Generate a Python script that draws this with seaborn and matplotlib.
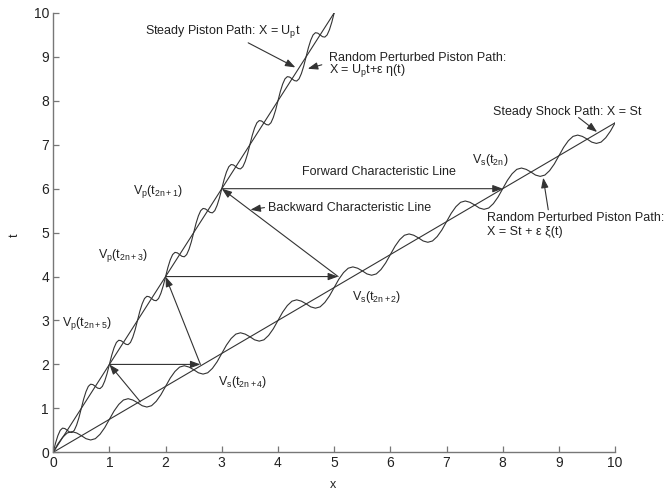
import numpy as np
import pandas as pd
import matplotlib
matplotlib.use("Agg")
import matplotlib.pyplot as plt
import seaborn as sns

# ---------------- data ----------------
steady_piston_x = [0, 5]
steady_piston_t = [0, 10]
steady_shock_x = [0, 10]
steady_shock_t = [0, 7.5]

piston_wave_x = np.linspace(0, 5, 121)
piston_wave_t = [
    0.00, 0.21, 0.38, 0.50, 0.55, 0.54, 0.50, 0.46, 0.45, 0.50, 0.62, 0.79,
    1.00, 1.21, 1.38, 1.50, 1.55, 1.54, 1.50, 1.46, 1.45, 1.50, 1.62, 1.79,
    2.00, 2.21, 2.38, 2.50, 2.55, 2.54, 2.50, 2.46, 2.45, 2.50, 2.62, 2.79,
    3.00, 3.21, 3.38, 3.50, 3.55, 3.54, 3.50, 3.46, 3.45, 3.50, 3.62, 3.79,
    4.00, 4.21, 4.38, 4.50, 4.55, 4.54, 4.50, 4.46, 4.45, 4.50, 4.62, 4.79,
    5.00, 5.21, 5.38, 5.50, 5.55, 5.54, 5.50, 5.46, 5.45, 5.50, 5.62, 5.79,
    6.00, 6.21, 6.38, 6.50, 6.55, 6.54, 6.50, 6.46, 6.45, 6.50, 6.62, 6.79,
    7.00, 7.21, 7.38, 7.50, 7.55, 7.54, 7.50, 7.46, 7.45, 7.50, 7.62, 7.79,
    8.00, 8.21, 8.38, 8.50, 8.55, 8.54, 8.50, 8.46, 8.45, 8.50, 8.62, 8.79,
    9.00, 9.21, 9.38, 9.50, 9.55, 9.54, 9.50, 9.46, 9.45, 9.50, 9.62, 9.79,
    10.00,
]

shock_wave_x = np.linspace(0, 10, 121)
shock_wave_t = [
    0.00, 0.19, 0.34, 0.44, 0.47, 0.44, 0.38, 0.31, 0.28, 0.31, 0.41, 0.56,
    0.75, 0.94, 1.09, 1.19, 1.22, 1.19, 1.13, 1.06, 1.03, 1.06, 1.16, 1.31,
    1.50, 1.69, 1.84, 1.94, 1.97, 1.94, 1.88, 1.81, 1.78, 1.81, 1.91, 2.06,
    2.25, 2.44, 2.59, 2.69, 2.72, 2.69, 2.63, 2.56, 2.53, 2.56, 2.66, 2.81,
    3.00, 3.19, 3.34, 3.44, 3.47, 3.44, 3.38, 3.31, 3.28, 3.31, 3.41, 3.56,
    3.75, 3.94, 4.09, 4.19, 4.22, 4.19, 4.13, 4.06, 4.03, 4.06, 4.16, 4.31,
    4.50, 4.69, 4.84, 4.94, 4.97, 4.94, 4.88, 4.81, 4.78, 4.81, 4.91, 5.06,
    5.25, 5.44, 5.59, 5.69, 5.72, 5.69, 5.63, 5.56, 5.53, 5.56, 5.66, 5.81,
    6.00, 6.19, 6.34, 6.44, 6.47, 6.44, 6.38, 6.31, 6.28, 6.31, 6.41, 6.56,
    6.75, 6.94, 7.09, 7.19, 7.22, 7.19, 7.13, 7.06, 7.03, 7.06, 7.16, 7.31,
    7.50,
]

# characteristic lines: (tail x, tail t, head x, head t)
char_tail_x = [3.00, 5.07, 2.00, 2.62, 1.00, 1.55]
char_tail_t = [6.00, 4.00, 4.00, 2.00, 2.00, 1.15]
char_head_x = [8.00, 3.00, 5.07, 2.00, 2.62, 1.00]
char_head_t = [6.00, 6.00, 4.00, 4.00, 2.00, 2.00]

point_labels = [
    r"V$_\mathrm{p}$(t$_\mathrm{2n+ 1}$)",
    r"V$_\mathrm{p}$(t$_\mathrm{2n+ 3}$)",
    r"V$_\mathrm{p}$(t$_\mathrm{2n+ 5}$)",
    r"V$_\mathrm{s}$(t$_\mathrm{2n}$)",
    r"V$_\mathrm{s}$(t$_\mathrm{2n+ 2}$)",
    r"V$_\mathrm{s}$(t$_\mathrm{2n+ 4}$)",
]
point_label_x = [1.42, 0.80, 0.15, 7.45, 5.32, 2.93]
point_label_t = [5.93, 4.49, 2.94, 6.65, 3.53, 1.60]

x_ticks = [0, 1, 2, 3, 4, 5, 6, 7, 8, 9, 10]
t_ticks = [0, 1, 2, 3, 4, 5, 6, 7, 8, 9, 10]

# ---------------- style ----------------
sns.set_theme(style="ticks")
plt.rcParams["font.family"] = ["Liberation Sans", "DejaVu Sans"]
plt.rcParams["mathtext.fontset"] = "custom"
plt.rcParams["mathtext.rm"] = "Liberation Sans"
plt.rcParams["mathtext.it"] = "Liberation Sans:italic"
plt.rcParams["mathtext.bf"] = "Liberation Sans:bold"

LC = "#333333"
LW = 0.8

fig = plt.figure(figsize=(6.65, 4.92), dpi=100)
ax = fig.add_axes([0.080, 0.0807, 0.845, 0.893])

sns.lineplot(x=steady_piston_x, y=steady_piston_t, ax=ax, color=LC, lw=LW, sort=False, estimator=None)
sns.lineplot(x=steady_shock_x, y=steady_shock_t, ax=ax, color=LC, lw=LW, sort=False, estimator=None)
sns.lineplot(x=piston_wave_x, y=piston_wave_t, ax=ax, color=LC, lw=LW, sort=False, estimator=None)
sns.lineplot(x=shock_wave_x, y=shock_wave_t, ax=ax, color=LC, lw=LW, sort=False, estimator=None)

aprops = dict(arrowstyle="-|>,head_length=0.6,head_width=0.22", color=LC, lw=LW,
              mutation_scale=10, shrinkA=0, shrinkB=0)
for tx, tt, hx, ht in zip(char_tail_x, char_tail_t, char_head_x, char_head_t):
    ax.annotate("", xy=(hx, ht), xytext=(tx, tt), arrowprops=aprops)

FS = 9
TC = "#222222"
for s, px, pt in zip(point_labels, point_label_x, point_label_t):
    ax.text(px, pt, s, fontsize=FS, ha="left", va="center", color=TC)

# annotations
ax.text(1.635, 9.57, r"Steady Piston Path: X = U$_\mathrm{p}$t", fontsize=FS, ha="left", va="center", color=TC)
ax.annotate("", xy=(4.31, 8.76), xytext=(3.47, 9.32), arrowprops=aprops)

ax.text(4.91, 8.98, "Random Perturbed Piston Path:", fontsize=FS, ha="left", va="center", color=TC)
ax.text(4.91, 8.68, r"X = U$_\mathrm{p}$t+ε η(t)", fontsize=FS, ha="left", va="center", color=TC)
ax.annotate("", xy=(4.53, 8.73), xytext=(4.78, 8.82), arrowprops=aprops)

ax.text(7.83, 7.75, "Steady Shock Path: X = St", fontsize=FS, ha="left", va="center", color=TC)
ax.annotate("", xy=(9.68, 7.29), xytext=(9.35, 7.62), arrowprops=aprops)

ax.text(7.72, 5.33, "Random Perturbed Piston Path:", fontsize=FS, ha="left", va="center", color=TC)
ax.text(7.72, 5.01, "X = St + ε ξ(t)", fontsize=FS, ha="left", va="center", color=TC)
ax.annotate("", xy=(8.72, 6.25), xytext=(8.81, 5.52), arrowprops=aprops)

ax.text(4.43, 6.38, "Forward Characteristic Line", fontsize=FS, ha="left", va="center", color=TC)
ax.text(3.82, 5.56, "Backward Characteristic Line", fontsize=FS, ha="left", va="center", color=TC)
ax.annotate("", xy=(3.51, 5.52), xytext=(3.76, 5.57), arrowprops=aprops)

# axes styling
ax.set_xlim(0, 10)
ax.set_ylim(0, 10)
ax.set_xticks(x_ticks)
ax.set_yticks(t_ticks)
sns.despine(ax=ax)
for sp in ("left", "bottom"):
    ax.spines[sp].set_color("#777777")
    ax.spines[sp].set_linewidth(1.0)
ax.tick_params(direction="in", length=4, width=0.9, color="#777777", labelsize=10,
               labelcolor=TC, pad=3)
ax.set_xlabel("x", fontsize=9, color=TC)
ax.xaxis.set_label_coords(0.498, -0.060)
ax.set_ylabel("t", fontsize=9, color=TC)
ax.yaxis.set_label_coords(-0.058, 0.495)

fig.savefig("out.png", dpi=100)
